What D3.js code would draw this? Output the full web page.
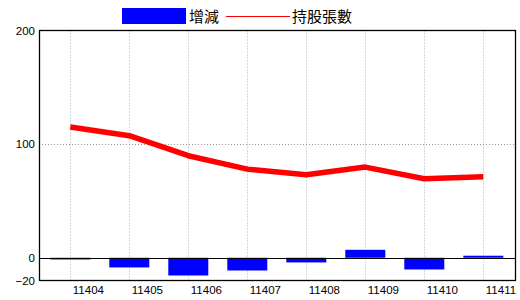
<!DOCTYPE html>
<html><head><meta charset="utf-8">
<script src="https://cdn.jsdelivr.net/npm/d3@7"></script>
<style>
body{margin:0;background:#fff;}
svg{display:block;}
</style></head>
<body>
<svg id="c" width="520" height="300"></svg>
<script>
const categories = ["11404","11405","11406","11407","11408","11409","11410","11411"];
const changeValues = [-1.5, -8.5, -15.6, -11.2, -4.1, 7, -10.3, 1.8];
const holdingValues = [115, 107.4, 89.8, 78, 73, 79.8, 69.5, 71.3];
const yTicks = [-20, 0, 100, 200];
const legendLabels = ["增減", "持股張數"];

const svg = d3.select("#c");
const pL = 39, pR = 516, pT = 30.5, pB = 280.5;

const x = d3.scalePoint().domain(categories).range([70.3, 483.3]);
const y = d3.scaleLinear().domain([-20, 200]).range([pB, pT]);

const g = svg.append("g");

// vertical grid
g.selectAll(".vg").data(categories).enter().append("line")
  .attr("x1", d => Math.round(x(d)) + 0.5).attr("x2", d => Math.round(x(d)) + 0.5)
  .attr("y1", pT).attr("y2", pB)
  .attr("stroke", "#9fb8c8").attr("stroke-width", 1).attr("stroke-dasharray", "1,2");

// horizontal grid at 100
g.selectAll(".hg").data(yTicks.filter(v => v !== 0 && v !== -20 && v !== 200)).enter().append("line")
  .attr("x1", pL).attr("x2", pR)
  .attr("y1", d => Math.round(y(d)) + 0.5).attr("y2", d => Math.round(y(d)) + 0.5)
  .attr("stroke", "#999").attr("stroke-dasharray", "1,2");

// bars
const bw = 40;
g.selectAll(".bar").data(categories).enter().append("rect")
  .attr("x", d => x(d) - bw / 2)
  .attr("width", bw)
  .attr("y", (d, i) => y(Math.max(0, changeValues[i])))
  .attr("height", (d, i) => Math.abs(y(changeValues[i]) - y(0)))
  .attr("fill", "#0000ff");

// zero line
g.append("line").attr("x1", pL).attr("x2", pR)
  .attr("y1", Math.round(y(0)) + 0.5).attr("y2", Math.round(y(0)) + 0.5)
  .attr("stroke", "#000").attr("stroke-width", 1.2);

// line
const line = d3.line().x((d, i) => x(categories[i])).y(d => y(d)).curve(d3.curveLinear);
g.append("path").datum(holdingValues).attr("d", line)
  .attr("fill", "none").attr("stroke", "#ff0000").attr("stroke-width", 5.5)
  .attr("stroke-linejoin", "round");

// frame
svg.append("rect").attr("x", pL + 0.5).attr("y", pT).attr("width", pR - pL - 1).attr("height", pB - pT)
  .attr("fill", "none").attr("stroke", "#000").attr("stroke-width", 1.3);

// y axis labels
const ya = d3.axisLeft(y).tickValues(yTicks).tickSize(0).tickPadding(4);
const yg = svg.append("g").attr("transform", `translate(${pL},0)`).call(ya);
yg.select(".domain").remove();
yg.selectAll("text").attr("font-family", "Liberation Sans, Arial, sans-serif").attr("font-size", 11.5).attr("fill", "#000");

// x axis labels
const xa = d3.axisBottom(x).tickSize(0).tickPadding(5);
const xg = svg.append("g").attr("transform", `translate(0,${pB})`).call(xa);
xg.select(".domain").remove();
xg.selectAll("text").attr("font-family", "Liberation Sans, Arial, sans-serif").attr("font-size", 11.5)
  .attr("fill", "#000").attr("text-anchor", "start").attr("dx", 2);

// legend
const lg = svg.append("g").attr("font-family", "Noto Sans CJK TC, sans-serif").attr("font-size", 15);
lg.append("rect").attr("x", 122).attr("y", 8).attr("width", 64).attr("height", 16).attr("fill", "#0000ff");
lg.append("text").attr("x", 189).attr("y", 22).text(legendLabels[0]);
lg.append("line").attr("x1", 226).attr("x2", 290).attr("y1", 16.5).attr("y2", 16.5).attr("stroke", "#ff0000").attr("stroke-width", 1.2);
lg.append("text").attr("x", 292).attr("y", 22).text(legendLabels[1]);
</script>
</body></html>
